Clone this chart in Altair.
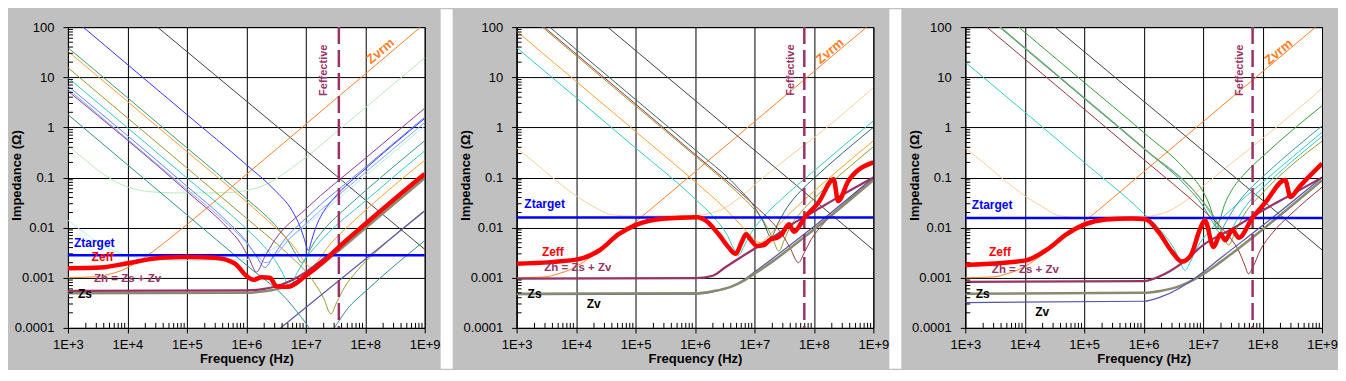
import altair as alt
import pandas as pd

# ---------------- panel 1 curves: (frequency Hz, impedance ohm) ----------------
p1_palegreen = [(1e3,0.43),(2e3,0.22),(4e3,0.115),(1e4,0.065),(3e4,0.051),(1e5,0.049),(5e5,0.05),(1e6,0.055),(2e6,0.07),(3e6,0.09),(6e6,0.16),(1e7,0.25),(3e7,0.74),(1e8,2.45),(1e9,24.5)]
p1_palecyan = [(1e3,0.014),(2e3,0.0075),(4e3,0.0043),(1e4,0.0028),(3e4,0.0023),(1e5,0.0022),(1e6,0.0023),(2e6,0.0031),(4e6,0.0048),(1e7,0.011),(1e8,0.107),(1e9,1.07)]
p1_bulk = [(3.2e4,100),(1e9,0.0037)]
p1_zvrm = [(1e3,0.001),(3e3,0.00105),(5e3,0.00118),(8e3,0.0014),(1.2e4,0.0018),(2e4,0.0026),(4e4,0.0048),(1e5,0.0115),(1e6,0.115),(1e7,1.15),(8.5e8,100)]
p1_darkblue = [(1.8e3,100),(1e5,1.8),(1e6,0.18),(3e6,0.056),(6e6,0.021),(8e6,0.0105),(9.5e6,0.0058),(1.1e7,0.0035),(1.25e7,0.0055),(1.4e7,0.0085),(1.6e7,0.0128),(2e7,0.021),(3e7,0.039),(1e8,0.148),(1e9,1.5)]
p1_seagreen = [(1e3,39),(1e5,0.39),(1e6,0.038),(3e6,0.0115),(5e6,0.0055),(7e6,0.0028),(8.5e6,0.002),(1e7,0.0025),(1.3e7,0.0045),(2e7,0.009),(5e7,0.026),(1e8,0.054),(1e9,0.54)]
p1_orange = [(1e3,33),(1e5,0.33),(1e6,0.033),(3e6,0.0103),(6e6,0.0045),(9e6,0.0023),(1.22e7,0.0016),(1.6e7,0.0022),(2.5e7,0.0045),(5e7,0.0103),(1e8,0.022),(1e9,0.22)]
p1_olive = [(1e3,15.5),(1e5,0.155),(1e6,0.0155),(5e6,0.003),(1e7,0.00133),(1.5e7,0.0007),(2e7,0.00039),(2.65e7,0.00019),(3.3e7,0.00032),(4.5e7,0.00065),(7e7,0.0013),(2e8,0.0044),(1e9,0.022)]
p1_cyan = [(1e3,9.8),(1e5,0.098),(1e6,0.0095),(2e6,0.0042),(3e6,0.0023),(4e6,0.0013),(5.4e6,0.00065),(7e6,0.0012),(1e7,0.0024),(2e7,0.0063),(1e8,0.034),(1e9,0.34)]
p1_cornflower = [(1e3,6.7),(1e5,0.067),(5e5,0.0126),(1e6,0.0053),(1.5e6,0.0026),(2.05e6,0.0016),(2.8e6,0.0026),(4e6,0.005),(1e7,0.0153),(1e8,0.16),(1e9,1.6)]
p1_lightblue = [(1e3,5.8),(1e5,0.058),(5e5,0.0113),(1e6,0.005),(1.5e6,0.0028),(2.15e6,0.002),(3e6,0.0027),(5e6,0.0055),(1e7,0.012),(1e8,0.125),(1e9,1.25)]
p1_purple = [(1e3,5.3),(1e5,0.053),(5e5,0.0094),(8e5,0.0049),(1.1e6,0.0025),(1.49e6,0.0013),(2e6,0.0025),(3e6,0.0056),(1e7,0.0235),(1e8,0.24),(1e9,2.4)]
p1_darkteal = [(1e3,1.8),(1e5,0.018),(1e6,0.0018),(5e6,0.00035),(1e7,0.000125),(1.8e7,0.00005),(3e7,0.0001),(5e7,0.00024),(1e8,0.00053),(1e9,0.0055)]
p1_zv = [(3e6,0.00008),(1e9,0.0215)]
p1_zs = [(1e3,0.00049),(1e6,0.0005),(2e6,0.00054),(3e6,0.00058),(5e6,0.0007),(1e7,0.0011),(2e7,0.002),(1e8,0.0097),(1e9,0.097)]
p1_zh = [(1e3,0.00055),(1e6,0.00056),(2e6,0.0006),(3e6,0.00066),(5e6,0.00082),(1e7,0.0013),(2e7,0.0024),(1e8,0.0115),(1e9,0.112)]
p1_zeff = [(1e3,0.00155),(3.6e3,0.0016),(1e4,0.00195),(3.7e4,0.0025),(1e5,0.0026),(2.9e5,0.0025),(6.3e5,0.00195),(1e6,0.0011),(1.3e6,0.00091),(1.8e6,0.00102),(2.5e6,0.001),(3.2e6,0.00068),(5e6,0.00066),(1e7,0.0011),(2e7,0.0021),(3.6e7,0.0041),(1e8,0.0118),(1e9,0.118)]

# ---------------- panel 2 curves ----------------
p2_peach = [(1e3,0.39),(2e3,0.2),(4e3,0.1),(1.1e4,0.04),(2e4,0.026),(4e4,0.018),(1e5,0.017),(1e6,0.0175),(2e6,0.02),(3.2e6,0.025),(6e6,0.042),(1.2e7,0.085),(4.3e7,0.29),(1e8,0.62),(1e9,6.2)]
p2_bulk = [(3.4e4,100),(1e9,0.0036)]
p2_zvrm = [(1e3,0.001),(3e3,0.00104),(5e3,0.0012),(8e3,0.00146),(1.2e4,0.0019),(2e4,0.0029),(4e4,0.0054),(1e5,0.013),(1e6,0.13),(1e7,1.3),(7.7e8,100)]
p2_orange = [(1e3,83),(1e5,0.83),(1e6,0.0825),(3e6,0.026),(6e6,0.011),(9e6,0.0066),(1.24e7,0.005),(1.7e7,0.0066),(2.5e7,0.011),(5e7,0.0253),(1e8,0.053),(1e9,0.54)]
p2_cyan = [(1e3,39),(1e5,0.39),(1e6,0.0377),(2e6,0.0168),(3.5e6,0.007),(4.5e6,0.0038),(5.4e6,0.0028),(6.5e6,0.004),(8e6,0.0065),(1.2e7,0.013),(3e7,0.039),(1e8,0.135),(1e9,1.35)]
p2_olive = [(2.7e3,100),(1e5,2.7),(1e6,0.27),(5e6,0.052),(1e7,0.023),(1.5e7,0.0123),(2e7,0.0063),(2.57e7,0.0034),(3.2e7,0.0058),(4e7,0.0103),(6e7,0.02),(1e8,0.038),(3e8,0.123),(1e9,0.41)]
p2_darkslate = [(3.6e3,100),(1e5,3.6),(1e6,0.36),(5e6,0.067),(1e7,0.026),(1.4e7,0.0133),(1.9e7,0.0065),(2.5e7,0.0124),(3.5e7,0.0247),(6e7,0.054),(1e8,0.096),(1e9,1.0)]
p2_maroon = [(2.9e3,100),(1e6,0.29),(1e7,0.028),(2e7,0.0126),(3e7,0.007),(4e7,0.0039),(5.5e7,0.002),(7e7,0.0033),(9e7,0.0058),(1.5e8,0.0125),(3e8,0.028),(1e9,0.096)]
p2_zv = [(1e3,0.00046),(1e6,0.00047),(2e6,0.00052),(4e6,0.00066),(7e6,0.00095),(1e7,0.0013),(2e7,0.0024),(1e8,0.0105),(1e9,0.1)]
p2_zs = [(1e3,0.00048),(1e6,0.00049),(2e6,0.00054),(4e6,0.00066),(7e6,0.00091),(1e7,0.0012),(2e7,0.0021),(1e8,0.0092),(1e9,0.089)]
p2_zh = [(1e3,0.00096),(1e6,0.00098),(2e6,0.0011),(3.2e6,0.0016),(6e6,0.0026),(9e6,0.0035),(2.2e7,0.0068),(4.3e7,0.0117),(1e8,0.021),(3e8,0.045),(1e9,0.1)]
p2_zeff = [(1e3,0.0019),(1e4,0.0023),(2.45e4,0.0035),(5.2e4,0.0074),(1e5,0.0112),(2.8e5,0.015),(1.1e6,0.0162),(1.5e6,0.014),(2.5e6,0.0074),(3.7e6,0.004),(4.8e6,0.003),(6.2e6,0.0054),(7.2e6,0.0074),(8.5e6,0.0059),(1.1e7,0.0043),(1.45e7,0.0045),(1.9e7,0.0059),(2.4e7,0.0063),(2.9e7,0.0074),(3.8e7,0.0117),(4.6e7,0.0083),(7e7,0.016),(1.2e8,0.032),(2.15e8,0.092),(2.55e8,0.034),(3.8e8,0.085),(1e9,0.2)]

# ---------------- panel 3 curves ----------------
p3_peach = [(1e3,0.39),(2e3,0.2),(4e3,0.1),(1.1e4,0.04),(2e4,0.026),(4e4,0.017),(1e5,0.016),(1e6,0.0165),(2e6,0.019),(3.2e6,0.024),(6e6,0.04),(1.2e7,0.08),(4.3e7,0.27),(1e8,0.6),(1e9,6.0)]
p3_bulk = [(3.2e4,100),(1e9,0.0036)]
p3_zvrm = [(1e3,0.001),(3e3,0.00104),(5e3,0.0012),(8e3,0.00146),(1.2e4,0.0019),(2e4,0.0029),(4e4,0.0054),(1e5,0.013),(1e6,0.13),(1e7,1.3),(7.8e8,100)]
p3_cyanlow = [(1e3,20),(1e5,0.2),(1e6,0.0192),(2e6,0.0084),(3.5e6,0.0032),(4.3e6,0.0018),(5e6,0.0014),(6e6,0.002),(8e6,0.0041),(1.2e7,0.0079),(3e7,0.0233),(1e8,0.08),(1e9,0.8)]
p3_green = [(7.9e3,100),(1e5,7.9),(1e6,0.79),(5e6,0.145),(1e7,0.052),(1.3e7,0.027),(1.55e7,0.0135),(1.71e7,0.01),(1.9e7,0.014),(2.3e7,0.029),(3e7,0.0547),(5e7,0.119),(1e8,0.262),(1e9,2.7)]
p3_teal = [(3.75e3,100),(1e5,3.75),(1e6,0.375),(5e6,0.071),(1e7,0.027),(1.5e7,0.012),(1.9e7,0.008),(2.4e7,0.0127),(3.5e7,0.0266),(6e7,0.058),(1e8,0.103),(1e9,1.07)]
p3_cyan = [(3.95e3,100),(1e5,3.95),(1e6,0.39),(1e7,0.032),(1.5e7,0.0155),(2e7,0.0085),(2.4e7,0.0065),(3e7,0.0092),(4e7,0.0169),(7e7,0.041),(1e8,0.062),(1e9,0.66)]
p3_olive = [(3.85e3,100),(1e5,3.85),(1e6,0.385),(1e7,0.033),(1.5e7,0.0173),(2e7,0.0095),(2.68e7,0.0045),(3.5e7,0.0085),(5e7,0.0189),(1e8,0.049),(1e9,0.53)]
p3_maroon = [(2.3e3,100),(1e6,0.23),(1e7,0.0224),(2e7,0.0102),(3e7,0.0058),(4e7,0.0034),(5e7,0.0018),(5.8e7,0.0012),(7e7,0.0017),(9e7,0.0034),(1.5e8,0.0081),(3e8,0.0185),(1e9,0.064)]
p3_zs = [(1e3,0.00048),(1e6,0.0005),(2e6,0.00055),(4e6,0.00068),(7e6,0.00092),(1e7,0.00118),(2e7,0.0021),(1e8,0.0092),(1e9,0.088)]
p3_zv = [(1e3,0.00032),(1e6,0.00034),(2e6,0.00042),(4e6,0.00062),(7e6,0.00095),(1e7,0.0013),(2e7,0.0025),(1e8,0.011),(1e9,0.1)]
p3_zh = [(1e3,0.00083),(1e6,0.00086),(2.3e6,0.0012),(5e6,0.0022),(1e7,0.0045),(3.1e7,0.0095),(1e8,0.022),(3e8,0.045),(1e9,0.1)]
p3_zeff = [(1e3,0.0018),(1e4,0.0022),(2.5e4,0.0038),(4.8e4,0.0071),(1e5,0.0115),(2.3e5,0.0145),(6.3e5,0.0152),(1.07e6,0.0147),(1.8e6,0.0081),(3e6,0.0033),(4.4e6,0.0021),(6.2e6,0.0028),(8.9e6,0.0095),(1.07e7,0.014),(1.5e7,0.0041),(1.95e7,0.0075),(2.35e7,0.0056),(3.1e7,0.009),(4e7,0.0063),(6.6e7,0.015),(1.12e8,0.032),(2.4e8,0.089),(2.95e8,0.041),(4.1e8,0.064),(1e9,0.19)]

# ---------------- scalar per-panel values ----------------
ZTARGET = [0.0028, 0.016, 0.0155]
FEFF = [3.6e7, 6.9e7, 6.8e7]

# label anchors (f, z) per panel
LBL_ZTARGET = [(1.26e3,0.00495),(1.35e3,0.0292),(1.29e3,0.028)]
LBL_ZEFF = [(2.5e3,0.0026),(2.66e3,0.0033),(2.5e3,0.0032)]
LBL_ZH = [(2.75e3,0.00096),(2.92e3,0.00158),(2.8e3,0.0014)]
LBL_ZS = [(1.47e3,0.00048),(1.53e3,0.00047),(1.5e3,0.00048)]
LBL_ZV = [None,(1.51e4,0.000295),(1.5e4,0.00021)]
LBL_ZVRM = [(1.8e8,33),(1.86e8,33),(1.86e8,32)]
LBL_FEFF = [(2.0e7,13.8),(4.2e7,13.9),(4.1e7,13.8)]

X_TICKS = [1e3,1e4,1e5,1e6,1e7,1e8,1e9]
Y_TICKS = [1e-4,1e-3,1e-2,1e-1,1,10,100]
MINOR_F = [m * 10**k for k in range(3, 9) for m in range(2, 10)]
MINOR_Z = [m * 10.0**k for k in range(-4, 2) for m in range(2, 10)]

# ---------------- styles ----------------
STYLE = {
    "palegreen": ("#b4eeb4", 1), "palecyan": ("#b4f0f0", 1), "bulk": ("#404040", 1),
    "zvrm": ("#ff7f27", 1), "darkblue": ("#3333ff", 1), "seagreen": ("#3c9a78", 1),
    "orange": ("#ffa030", 1), "olive": ("#999933", 1), "cyan": ("#33c8c8", 1),
    "cornflower": ("#6680ff", 1), "lightblue": ("#80aaff", 1), "purple": ("#993399", 1),
    "darkteal": ("#2f8f8f", 1), "peach": ("#ffcc99", 1), "darkslate": ("#336666", 1),
    "maroon": ("#993333", 1), "green": ("#33a033", 1), "teal": ("#3a9aa8", 1),
    "cyanlow": ("#33cccc", 1),
    "zv": ("#5555aa", 1.2), "zs": ("#8a8a70", 2.5), "zh": ("#993366", 2.2),
}

PANELS = [
    [("palegreen", p1_palegreen), ("palecyan", p1_palecyan), ("bulk", p1_bulk), ("zvrm", p1_zvrm),
     ("darkblue", p1_darkblue), ("seagreen", p1_seagreen), ("orange", p1_orange), ("olive", p1_olive),
     ("cyan", p1_cyan), ("cornflower", p1_cornflower), ("lightblue", p1_lightblue), ("purple", p1_purple),
     ("darkteal", p1_darkteal), ("zv", p1_zv), ("zs", p1_zs), ("zh", p1_zh)],
    [("peach", p2_peach), ("bulk", p2_bulk), ("zvrm", p2_zvrm), ("orange", p2_orange), ("cyan", p2_cyan),
     ("olive", p2_olive), ("darkslate", p2_darkslate), ("maroon", p2_maroon),
     ("zv", p2_zv), ("zs", p2_zs), ("zh", p2_zh)],
    [("peach", p3_peach), ("bulk", p3_bulk), ("zvrm", p3_zvrm), ("cyanlow", p3_cyanlow), ("green", p3_green),
     ("teal", p3_teal), ("cyan", p3_cyan), ("olive", p3_olive), ("maroon", p3_maroon),
     ("zs", p3_zs), ("zv", p3_zv), ("zh", p3_zh)],
]
ZEFFS = [p1_zeff, p2_zeff, p3_zeff]

FONT = "Liberation Sans"
W, H = 357, 301

x_axis = alt.Axis(values=X_TICKS, labelExpr="'1E+' + round(log(datum.value)/LN10)",
                  title="Frequency (Hz)", grid=True, gridColor="black", gridOpacity=1, gridWidth=1,
                  domainColor="black", tickColor="black", tickSize=5, labelFont=FONT, labelFontSize=13,
                  labelColor="black", labelPadding=6, labelFlush=False, labelOverlap=False,
                  titleFont=FONT, titleFontSize=13, titleFontWeight="bold", titleColor="black", titlePadding=1)
y_axis = alt.Axis(values=Y_TICKS,
                  labelExpr="datum.value < 0.00011 ? '0.0001' : datum.value < 0.0011 ? '0.001' : datum.value < 0.011 ? '0.01' : datum.value < 0.11 ? '0.1' : datum.value < 1.1 ? '1' : datum.value < 11 ? '10' : '100'",
                  title="Impedance (Ω)", grid=True, gridColor="black", gridOpacity=1, gridWidth=1,
                  domainColor="black", tickColor="black", tickSize=5, labelFont=FONT, labelFontSize=13,
                  labelColor="black", labelPadding=9, labelFlush=False, labelOverlap=False,
                  titleFont=FONT, titleFontSize=13, titleFontWeight="bold", titleColor="black",
                  titleX=-44, titleY=148, titleAngle=270, titleAlign="center", titleBaseline="bottom")
xs = alt.Scale(type="log", domain=[1e3, 1e9], nice=False)
ys = alt.Scale(type="log", domain=[1e-4, 100], nice=False)
xenc = alt.X("f:Q", scale=xs, axis=x_axis)
yenc = alt.Y("z:Q", scale=ys, axis=y_axis)


def curve_frame(curves):
    rows = []
    for name, pts in curves:
        col, w = STYLE[name]
        for i, (f, z) in enumerate(pts):
            rows.append({"curve": name, "i": i, "f": f, "z": z, "col": col, "w": w})
    return pd.DataFrame(rows)


def text_layer(pos, txt, color, size, weight, align="left", angle=0):
    return alt.Chart(pd.DataFrame({"f": [pos[0]], "z": [pos[1]]})).mark_text(
        text=txt, align=align, baseline="middle", font=FONT, fontSize=size, fontWeight=weight,
        color=color, angle=angle).encode(x=xenc, y=yenc)


def panel(k):
    df = curve_frame(PANELS[k])
    lines = alt.Chart(df).mark_line(interpolate="monotone", clip=True).encode(
        x=xenc, y=yenc, color=alt.Color("col:N", scale=None),
        strokeWidth=alt.StrokeWidth("w:Q", scale=None), detail="curve:N", order="i:Q")
    minor_x = alt.Chart(pd.DataFrame({"f": MINOR_F})).mark_rule(color="black", strokeWidth=1).encode(
        x=xenc, y=alt.value(H - 5), y2=alt.value(H))
    minor_y = alt.Chart(pd.DataFrame({"z": MINOR_Z})).mark_rule(color="black", strokeWidth=1).encode(
        y=yenc, x=alt.value(0), x2=alt.value(5))
    zt = alt.Chart(pd.DataFrame({"z": [ZTARGET[k]]})).mark_rule(color="#0000ff", strokeWidth=2.5).encode(y=yenc)
    zeff_df = pd.DataFrame({"f": [p[0] for p in ZEFFS[k]], "z": [p[1] for p in ZEFFS[k]]})
    zeff = alt.Chart(zeff_df).mark_line(interpolate="monotone", color="#ff0000", strokeWidth=4.5,
                                        clip=True).encode(x=xenc, y=yenc)
    feff = alt.Chart(pd.DataFrame({"f": [FEFF[k]]})).mark_rule(
        color="#993366", strokeWidth=2.5, strokeDash=[17, 6]).encode(x=xenc)
    if k < 2:
        gaps = [alt.Chart(pd.DataFrame({"a": [0]})).mark_rect(color="white", clip=False).encode(
            x=alt.value(373), x2=alt.value(385), y=alt.value(-18), y2=alt.value(H + 41))]
    else:
        gaps = [alt.Chart(pd.DataFrame({"a": [0]})).mark_rect(color="#c0c0c0", clip=False).encode(
                    x=alt.value(100), x2=alt.value(101), y=alt.value(-18), y2=alt.value(-12)),
                alt.Chart(pd.DataFrame({"a": [0]})).mark_rect(color="#c0c0c0", clip=False).encode(
                    x=alt.value(100), x2=alt.value(101), y=alt.value(H + 39), y2=alt.value(H + 41))]
    layers = [lines, minor_x, minor_y, zt, feff, zeff] + gaps + [
              text_layer(LBL_ZTARGET[k], "Ztarget", "#0000ff", 12, "bold"),
              text_layer(LBL_ZEFF[k], "Zeff", "#ff0000", 12, "bold"),
              text_layer(LBL_ZH[k], "Zh = Zs + Zv", "#993366", 11.5, "bold"),
              text_layer(LBL_ZS[k], "Zs", "black", 12, "bold"),
              text_layer(LBL_ZVRM[k], "Zvrm", "#ff7f27", 13, "bold", align="center", angle=320),
              text_layer(LBL_FEFF[k], "Feffective", "#993366", 11, "bold", align="center", angle=270)]
    if LBL_ZV[k] is not None:
        layers.append(text_layer(LBL_ZV[k], "Zv", "black", 12, "bold"))
    return alt.layer(*layers).properties(width=W, height=H)


chart = alt.hconcat(panel(0), panel(1), panel(2), spacing=5).properties(
    padding={"left": 2, "top": 0, "right": 0, "bottom": 0}
).configure(background="#c0c0c0").configure_view(fill="white", stroke="black", strokeWidth=1)

chart.save("out.html", embed_options={"renderer": "svg", "actions": False})
